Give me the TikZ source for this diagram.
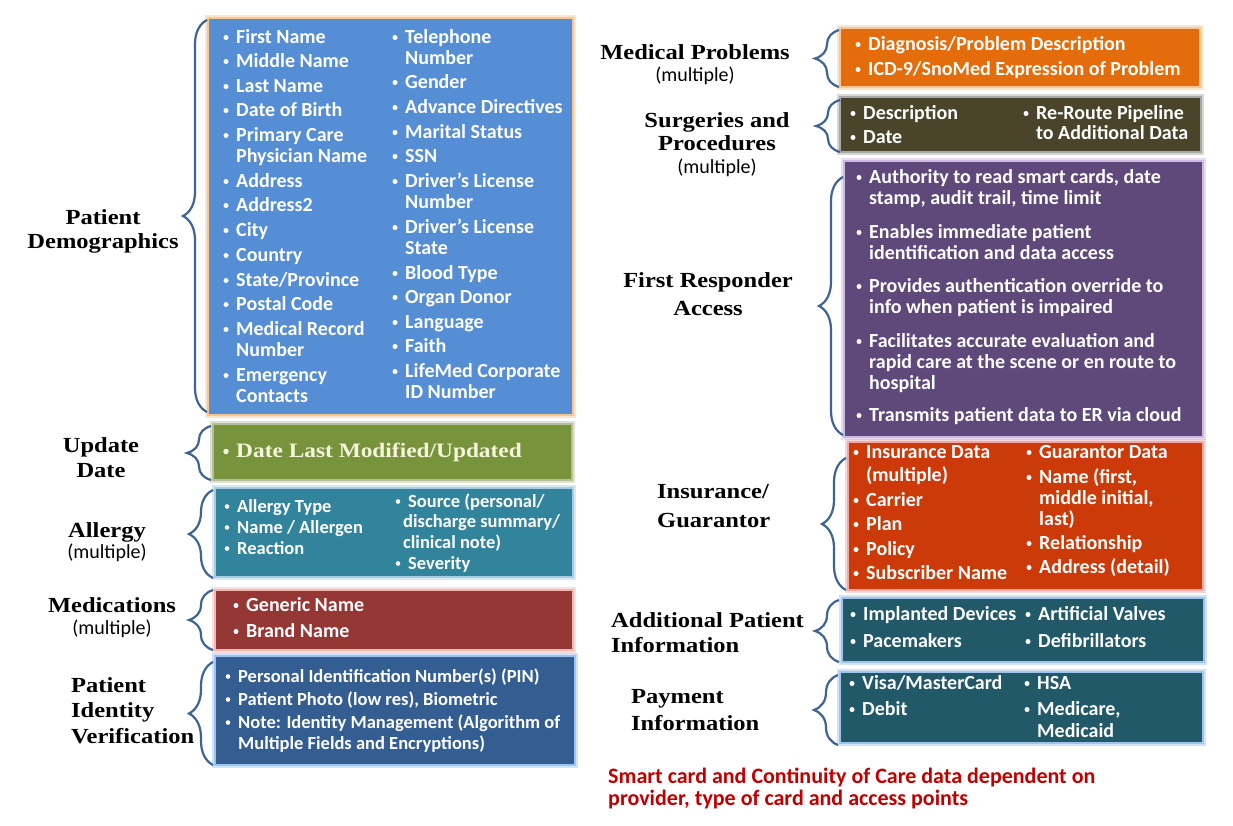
\documentclass[tikz,border=0pt]{standalone}
\usepackage{fontspec}
\setmainfont[FakeStretch=1.14]{Liberation Serif}
\newfontfamily\calfont{Carlito}
\usetikzlibrary{decorations.pathreplacing,calc}
\definecolor{cdemo}{HTML}{558ED5}\definecolor{gdemo}{HTML}{F9C690}
\definecolor{cupd}{HTML}{77933C}\definecolor{gupd}{HTML}{B5C09A}
\definecolor{call}{HTML}{31849B}\definecolor{gall}{HTML}{A9CCE0}
\definecolor{cmed}{HTML}{953735}\definecolor{gmed}{HTML}{F2B8B6}
\definecolor{cidv}{HTML}{345E92}\definecolor{gidv}{HTML}{9EC3EE}
\definecolor{cprob}{HTML}{E46C0A}\definecolor{gprob}{HTML}{FAC794}
\definecolor{csurg}{HTML}{4A452A}\definecolor{gsurg}{HTML}{A8A8A8}
\definecolor{cfirst}{HTML}{5F497A}\definecolor{gfirst}{HTML}{CDB8E3}
\definecolor{cins}{HTML}{CD3A0A}\definecolor{gins}{HTML}{F0A8A8}
\definecolor{cteal}{HTML}{215968}\definecolor{gteal}{HTML}{9EC3EE}
\definecolor{bracec}{HTML}{3E6496}
\definecolor{notec}{HTML}{C00000}
\definecolor{updtext}{HTML}{F5F5DC}
\newcommand\BI[6]{\node[#1] (#2) at (#4,#5) {#6};\node[#1dot] (#2b) at ({#4-10},{#5-5.5}) {};}
\newcommand\LN[4]{\node[#1] (#2) at (#3) {#4};}
\newcommand\BOX[6]{\node[box,draw=#3,fill=#2,minimum width=#5pt,minimum height=#6pt,
  preaction={draw=#3,line width=6pt,opacity=0.45}] (#1) at (#4) {};}
\begin{document}
\begin{tikzpicture}[x=1pt,y=-1pt,
 box/.style={rectangle,anchor=north west,inner sep=0pt,outer sep=0pt,line width=2.5pt},
 itm/.style={anchor=base west,inner sep=0pt,text=white,font=\calfont\bfseries\fontsize{20}{22}\selectfont},
 itmdot/.style={circle,fill=white,inner sep=0pt,minimum size=5pt},
 sitm/.style={itm,font=\calfont\bfseries\fontsize{18.5}{20}\selectfont},
 sitmdot/.style={circle,fill=white,inner sep=0pt,minimum size=4.6pt},
 uitm/.style={anchor=base west,inner sep=0pt,text=updtext,font=\bfseries\fontsize{20.5}{23}\selectfont},
 uitmdot/.style={circle,fill=updtext,inner sep=0pt,minimum size=5.5pt},
 lbl/.style={anchor=base,inner sep=0pt,font=\bfseries\fontsize{21.5}{23}\selectfont},
 lbll/.style={lbl,anchor=base west},
 mult/.style={anchor=base,inner sep=0pt,font=\calfont\fontsize{20}{22}\selectfont},
 note/.style={anchor=base west,inner sep=0pt,text=notec,font=\calfont\bfseries\fontsize{22}{24}\selectfont},
 brc/.style={draw=bracec,line width=2.2pt,decorate,decoration={brace,amplitude=24pt,aspect=0.5}}]
\fill[white] (0,0) rectangle (1233,825);
\useasboundingbox (0,0) rectangle (1233,825);
% ---------- boxes ----------
\BOX{demo}{cdemo}{gdemo}{208,18}{365}{397}
\BOX{upd}{cupd}{gupd}{213,424}{359}{56}
\BOX{all}{call}{gall}{215,488}{358}{89}
\BOX{med}{cmed}{gmed}{215,590}{358}{60}
\BOX{idv}{cidv}{gidv}{215,656}{360}{109}
\BOX{prob}{cprob}{gprob}{840,28}{360}{59}
\BOX{surg}{csurg}{gsurg}{840,97}{361}{55}
\BOX{first}{cfirst}{gfirst}{844,161}{359}{276}
\BOX{ins}{cins}{gins}{848,442}{355}{148}
\BOX{addl}{cteal}{gteal}{842,598}{362}{64}
\BOX{pay}{cteal}{gteal}{840,672}{363}{71}
% ---------- braces ----------
\draw[brc] ($(demo.south west)+(-1,-3)$) -- ($(demo.north west)+(-1,2)$);
\draw[brc] ($(upd.south west)+(-2,0)$) -- ($(upd.north west)+(-2,2)$);
\draw[brc] ($(all.south west)+(-2,1)$) -- ($(all.north west)+(-2,2)$);
\draw[brc] ($(med.south west)+(-2,0)$) -- ($(med.north west)+(-2,0)$);
\draw[brc] ($(idv.south west)+(-2,0)$) -- ($(idv.north west)+(-2,6)$);
\draw[brc] ($(prob.south west)+(-1,0)$) -- ($(prob.north west)+(-1,2)$);
\draw[brc] ($(surg.south west)+(0,0)$) -- ($(surg.north west)+(0,3)$);
\draw[brc] ($(first.south west)+(-1,-2)$) -- ($(first.north west)+(-1,16)$);
\draw[brc] ($(ins.south west)+(-2,0)$) -- ($(ins.north west)+(-2,16)$);
\draw[brc] ($(addl.south west)+(-3,0)$) -- ($(addl.north west)+(-3,2)$);
\draw[brc] ($(pay.south west)+(-2,2)$) -- ($(pay.north west)+(-2,3)$);
% ---------- labels ----------
\LN{lbl}{pd1}{103,224}{Patient}
\LN{lbl}{pd2}{103,248}{Demographics}
\LN{lbl}{ud1}{101,452}{Update}
\LN{lbl}{ud2}{101,477}{Date}
\LN{lbl}{al1}{107,537}{Allergy}
\LN{mult}{al2}{107,558}{(multiple)}
\LN{lbl}{md1}{112,612}{Medications}
\LN{mult}{md2}{112,634}{(multiple)}
\LN{lbll}{pi1}{71,692}{Patient}
\LN{lbll}{pi2}{71,717}{Identity}
\LN{lbll}{pi3}{71,743}{Verification}
\LN{lbl}{mp1}{695,59}{Medical Problems}
\LN{mult}{mp2}{695,81}{(multiple)}
\LN{lbl}{sp1}{717,127}{Surgeries and}
\LN{lbl}{sp2}{717,150}{Procedures}
\LN{mult}{sp3}{717,173}{(multiple)}
\LN{lbl}{fr1}{708,287}{First Responder}
\LN{lbl}{fr2}{708,315}{Access}
\LN{lbll}{ig1}{657,498}{Insurance/}
\LN{lbll}{ig2}{657,527}{Guarantor}
\LN{lbll}{ap1}{611,627}{Additional Patient}
\LN{lbll}{ap2}{611,652}{Information}
\LN{lbll}{py1}{631,703}{Payment}
\LN{lbll}{py2}{631,730}{Information}
% ---------- demographics ----------
\BI{itm}{d1}{223}{236}{43}{First Name}
\BI{itm}{d2}{223}{236}{67}{Middle Name}
\BI{itm}{d3}{223}{236}{92}{Last Name}
\BI{itm}{d4}{223}{236}{116}{Date of Birth}
\BI{itm}{d5}{223}{236}{141}{Primary Care}
\LN{itm}{d5c}{236,162}{Physician Name}
\BI{itm}{d6}{223}{236}{187}{Address}
\BI{itm}{d7}{223}{236}{211}{Address2}
\BI{itm}{d8}{223}{236}{236}{City}
\BI{itm}{d9}{223}{236}{261}{Country}
\BI{itm}{d10}{223}{236}{286}{State/Province}
\BI{itm}{d11}{223}{236}{310}{Postal Code}
\BI{itm}{d12}{223}{236}{335}{Medical Record}
\LN{itm}{d12c}{236,356}{Number}
\BI{itm}{d13}{223}{236}{381}{Emergency}
\LN{itm}{d13c}{236,402}{Contacts}
\BI{itm}{e1}{393}{405}{43}{Telephone}
\LN{itm}{e1c}{405,64}{Number}
\BI{itm}{e2}{393}{405}{88}{Gender}
\BI{itm}{e3}{393}{405}{113}{Advance Directives}
\BI{itm}{e4}{393}{405}{138}{Marital Status}
\BI{itm}{e5}{393}{405}{162}{SSN}
\BI{itm}{e6}{393}{405}{187}{Driver’s License}
\LN{itm}{e6c}{405,208}{Number}
\BI{itm}{e7}{393}{405}{233}{Driver’s License}
\LN{itm}{e7c}{405,254}{State}
\BI{itm}{e8}{393}{405}{279}{Blood Type}
\BI{itm}{e9}{393}{405}{303}{Organ Donor}
\BI{itm}{e10}{393}{405}{328}{Language}
\BI{itm}{e11}{393}{405}{352}{Faith}
\BI{itm}{e12}{393}{405}{377}{LifeMed Corporate}
\LN{itm}{e12c}{405,398}{ID Number}
% ---------- update ----------
\BI{uitm}{u1}{222}{236}{457}{Date Last Modified/Updated}
% ---------- allergy ----------
\BI{sitm}{a1}{222}{237}{512}{Allergy Type}
\BI{sitm}{a2}{222}{237}{533}{Name / Allergen}
\BI{sitm}{a3}{222}{237}{554}{Reaction}
\BI{sitm}{a4}{397}{408}{507}{Source (personal/}
\LN{sitm}{a4c}{403,527}{discharge summary/}
\LN{sitm}{a4d}{403,548}{clinical note)}
\BI{sitm}{a5}{397}{408}{569}{Severity}
% ---------- medications ----------
\BI{itm}{m1}{232}{246}{611}{Generic Name}
\BI{itm}{m2}{232}{246}{637}{Brand Name}
% ---------- identity ----------
\BI{sitm}{i1}{222}{238}{682}{Personal Identification Number(s) (PIN)}
\BI{sitm}{i2}{222}{238}{705}{Patient Photo (low res), Biometric}
\BI{sitm}{i3}{222}{238}{728}{Note: Identity Management (Algorithm of}
\LN{sitm}{i3c}{238,749}{Multiple Fields and Encryptions)}
% ---------- medical problems ----------
\BI{itm}{p1}{858}{868}{50}{Diagnosis/Problem Description}
\BI{itm}{p2}{858}{868}{75}{ICD-9/SnoMed Expression of Problem}
% ---------- surgeries ----------
\BI{itm}{s1}{853}{863}{119}{Description}
\BI{itm}{s2}{853}{863}{143}{Date}
\BI{itm}{s3}{1027}{1036}{119}{Re-Route Pipeline}
\LN{itm}{s3c}{1036,139}{to Additional Data}
% ---------- first responder ----------
\BI{itm}{f1}{858}{869}{183}{Authority to read smart cards, date}
\LN{itm}{f1c}{869,204}{stamp, audit trail, time limit}
\BI{itm}{f2}{858}{869}{238}{Enables immediate patient}
\LN{itm}{f2c}{869,259}{identification and data access}
\BI{itm}{f3}{858}{869}{292}{Provides authentication override to}
\LN{itm}{f3c}{869,313}{info when patient is impaired}
\BI{itm}{f4}{858}{869}{347}{Facilitates accurate evaluation and}
\LN{itm}{f4c}{869,368}{rapid care at the scene or en route to}
\LN{itm}{f4d}{869,389}{hospital}
\BI{itm}{f5}{858}{869}{421}{Transmits patient data to ER via cloud}
% ---------- insurance ----------
\BI{itm}{n1}{856}{866}{458}{Insurance Data}
\LN{itm}{n1c}{866,481}{(multiple)}
\BI{itm}{n2}{856}{866}{506}{Carrier}
\BI{itm}{n3}{856}{866}{530}{Plan}
\BI{itm}{n4}{856}{866}{555}{Policy}
\BI{itm}{n5}{856}{866}{579}{Subscriber Name}
\BI{itm}{g1}{1030}{1039}{458}{Guarantor Data}
\BI{itm}{g2}{1030}{1039}{483}{Name (first,}
\LN{itm}{g2c}{1039,504}{middle initial,}
\LN{itm}{g2d}{1039,525}{last)}
\BI{itm}{g3}{1030}{1039}{549}{Relationship}
\BI{itm}{g4}{1030}{1039}{573}{Address (detail)}
% ---------- additional ----------
\BI{itm}{x1}{852}{863}{620}{Implanted Devices}
\BI{itm}{x2}{852}{863}{647}{Pacemakers}
\BI{itm}{x3}{1028}{1038}{620}{Artificial Valves}
\BI{itm}{x4}{1028}{1038}{647}{Defibrillators}
% ---------- payment ----------
\BI{itm}{y1}{851}{862}{689}{Visa/MasterCard}
\BI{itm}{y2}{851}{862}{715}{Debit}
\BI{itm}{y3}{1027}{1037}{689}{HSA}
\BI{itm}{y4}{1027}{1037}{715}{Medicare,}
\LN{itm}{y4c}{1037,737}{Medicaid}
% ---------- note ----------
\LN{note}{nt1}{608,783}{Smart card and Continuity of Care data dependent on}
\LN{note}{nt2}{608,805}{provider, type of card and access points}
\end{tikzpicture}
\end{document}
